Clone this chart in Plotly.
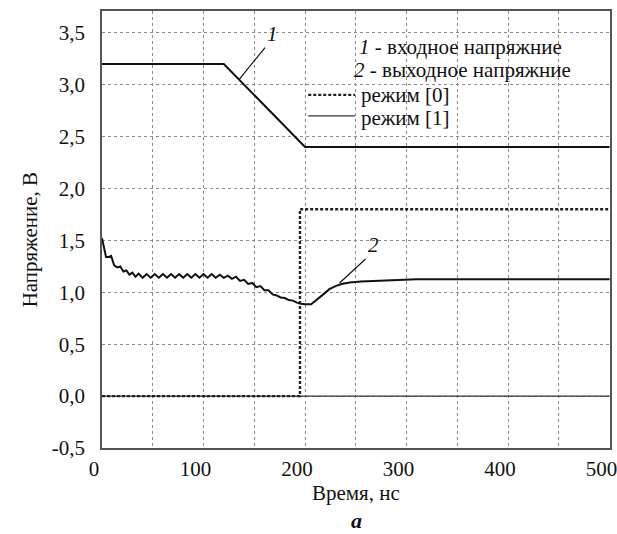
import plotly.graph_objects as go

# ---- data ----
t_in = [0, 120, 200, 500]
v_in = [3.2, 3.2, 2.4, 2.4]

t_out = [0, 2, 4, 7, 9, 12, 15, 18, 21, 24, 27, 30, 33, 36, 40, 44, 48, 52, 56, 60,
         64, 68, 72, 76, 80, 84, 88, 92, 96, 100, 104, 108, 112, 116, 120, 124, 128,
         132, 136, 140, 144, 148, 152, 156, 160, 164, 168, 172, 176, 180, 184, 188,
         192, 196, 200, 206, 212, 218, 224, 230, 236, 244, 255, 267, 285, 310, 500]
v_out = [1.52, 1.42, 1.34, 1.34, 1.35, 1.26, 1.24, 1.25, 1.20, 1.21, 1.17, 1.19, 1.15,
         1.18, 1.14, 1.175, 1.14, 1.175, 1.14, 1.175, 1.14, 1.175, 1.14, 1.175, 1.14,
         1.175, 1.14, 1.175, 1.14, 1.175, 1.14, 1.175, 1.14, 1.17, 1.14, 1.16, 1.13,
         1.15, 1.11, 1.12, 1.08, 1.09, 1.05, 1.06, 1.02, 1.02, 0.98, 0.97, 0.95, 0.945,
         0.925, 0.92, 0.90, 0.89, 0.885, 0.885, 0.93, 0.98, 1.03, 1.06, 1.08, 1.095,
         1.105, 1.11, 1.12, 1.125, 1.125]

t_mode0 = [0, 195, 195, 500]
v_mode0 = [0, 0, 1.8, 1.8]

t_mode1 = [0, 500]
v_mode1 = [0, 0]

x_ticks = [0, 50, 100, 150, 200, 250, 300, 350, 400, 450, 500]
x_ticktext = ["0", "", "100", "", "200", "", "300", "", "400", "", "500"]
y_ticks = [-0.5, 0, 0.5, 1.0, 1.5, 2.0, 2.5, 3.0, 3.5]
y_ticktext = ["-0,5", "0,0", "0,5", "1,0", "1,5", "2,0", "2,5", "3,0", "3,5"]

FONT = "Liberation Serif"
DASH0 = "3px,2px"

fig = go.Figure()
fig.add_trace(go.Scatter(x=t_mode1, y=v_mode1, mode="lines",
                         line=dict(color="#333", width=1.3), hoverinfo="skip"))
fig.add_trace(go.Scatter(x=t_mode0, y=v_mode0, mode="lines",
                         line=dict(color="#222", width=2.4, dash=DASH0), hoverinfo="skip"))
fig.add_trace(go.Scatter(x=t_in, y=v_in, mode="lines",
                         line=dict(color="#111", width=2), hoverinfo="skip"))
fig.add_trace(go.Scatter(x=t_out, y=v_out, mode="lines",
                         line=dict(color="#111", width=2), hoverinfo="skip"))

axis_common = dict(showline=True, linecolor="#555", linewidth=1.5, mirror=True,
                   showgrid=True, gridcolor="#8a8a8a", gridwidth=1, griddash="dot",
                   zeroline=False, ticks="", automargin=False,
                   tickfont=dict(family=FONT, size=21, color="#111"))

fig.update_xaxes(range=[0, 500.4], tickmode="array", tickvals=x_ticks, ticktext=x_ticktext,
                 ticklabelstandoff=1, ticklabelshift=-8, ticklabeloverflow="allow",
                 **axis_common)
fig.update_yaxes(range=[-0.5, 3.71], tickmode="array", tickvals=y_ticks, ticktext=y_ticktext,
                 ticklabelstandoff=11, **axis_common)

ann = []
txt = dict(family=FONT, size=21, color="#111")
ann.append(dict(xref="paper", yref="paper", x=0.705, y=0.918, text="<i>1</i> - входное напряжние",
                showarrow=False, font=txt, xanchor="center", yanchor="middle"))
ann.append(dict(xref="paper", yref="paper", x=0.710, y=0.865, text="<i>2</i> - выходное напряжние",
                showarrow=False, font=txt, xanchor="center", yanchor="middle"))
ann.append(dict(xref="paper", yref="paper", x=0.506, y=0.808, text="режим [0]",
                showarrow=False, font=txt, xanchor="left", yanchor="middle"))
ann.append(dict(xref="paper", yref="paper", x=0.506, y=0.755, text="режим [1]",
                showarrow=False, font=txt, xanchor="left", yanchor="middle"))
# curve labels with leader lines
ann.append(dict(x=135, y=3.05, text="<i>1</i>", showarrow=True, arrowhead=0, arrowwidth=1.2,
                arrowcolor="#111", ax=26, ay=-32, font=txt, xanchor="left", yanchor="bottom"))
ann.append(dict(x=234, y=1.09, text="<i>2</i>", showarrow=True, arrowhead=0, arrowwidth=1.2,
                arrowcolor="#111", ax=26, ay=-24, font=txt, xanchor="left", yanchor="bottom"))
# axis titles
ann.append(dict(xref="paper", yref="paper", x=-0.141, y=0.476, text="Напряжение, В",
                textangle=-90, showarrow=False, font=txt, xanchor="center", yanchor="middle"))
ann.append(dict(xref="paper", yref="paper", x=0.5, y=-0.102, text="Время, нс",
                showarrow=False, font=txt, xanchor="center", yanchor="middle"))
ann.append(dict(xref="paper", yref="paper", x=0.5, y=-0.166, text="<b><i>a</i></b>",
                showarrow=False, font=dict(family=FONT, size=22, color="#111"),
                xanchor="center", yanchor="middle"))

shapes = [
    dict(type="line", xref="paper", yref="paper", x0=0.406, x1=0.498, y0=0.808, y1=0.808,
         line=dict(color="#222", width=2.4, dash=DASH0)),
    dict(type="line", xref="paper", yref="paper", x0=0.406, x1=0.498, y0=0.760, y1=0.760,
         line=dict(color="#333", width=1.3)),
]

fig.update_layout(width=617, height=534, autosize=False,
                  margin=dict(l=102, r=7, t=11, b=86, autoexpand=False),
                  paper_bgcolor="white", plot_bgcolor="white", showlegend=False,
                  annotations=ann, shapes=shapes)

fig.write_html("out.html")
